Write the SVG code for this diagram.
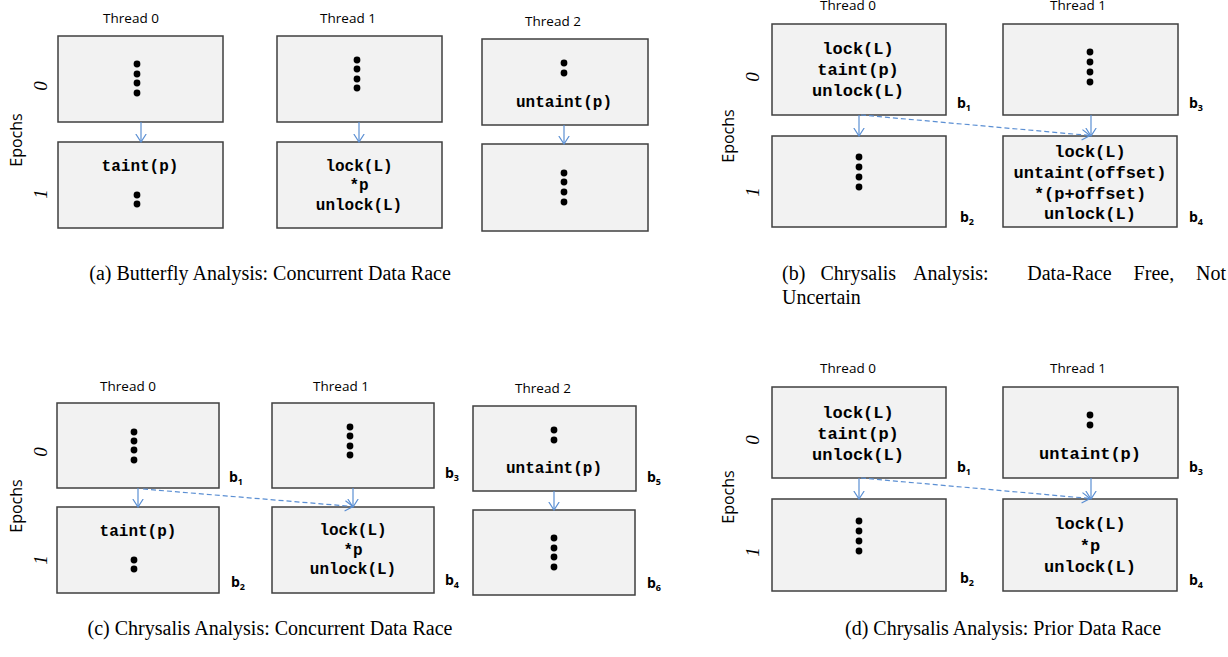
<svg xmlns="http://www.w3.org/2000/svg" width="1228" height="657" viewBox="0 0 1228 657">
  <style>
    .box { fill: #f2f2f2; stroke: #3f3f3f; stroke-width: 1.5; }
    .thr { font-family: "Open Sans", "Liberation Sans", sans-serif; font-size: 13.5px; fill: #000; text-anchor: middle; }
    .ep { font-family: "Open Sans", "Liberation Sans", sans-serif; font-size: 16px; fill: #000; text-anchor: middle; }
    .num { font-family: "Liberation Serif", serif; font-style: italic; font-size: 19px; fill: #000; text-anchor: middle; }
    .code { font-family: "Liberation Mono", monospace; font-weight: bold; font-size: 16px; fill: #000; text-anchor: middle; }
    .code17 { font-family: "Liberation Mono", monospace; font-weight: bold; font-size: 17px; fill: #000; text-anchor: middle; }
    .blk { font-family: "Open Sans", "Liberation Sans", sans-serif; font-weight: bold; font-size: 14px; fill: #000; }
    .sub { font-size: 9px; }
    .cap { font-family: "Liberation Serif", serif; font-size: 20px; fill: #000; }
    .dot { fill: #000; }
    .edge { stroke: #5b8fd3; stroke-width: 1.2; fill: none; marker-end: url(#vhead); }
    .dash { stroke-dasharray: 5 3; }
  </style>
  <defs>
    <marker id="vhead" markerUnits="userSpaceOnUse" viewBox="0 0 9 12" refX="8.5" refY="6" markerWidth="9" markerHeight="12" orient="auto">
      <path d="M0.5,0.8 L8.5,6 L0.5,11.2" fill="none" stroke="#5b8fd3" stroke-width="1.2"/>
    </marker>
  </defs>

  <!-- ===== (a) Butterfly Analysis ===== -->
  <g id="a-labels">
    <text class="thr" x="131" y="23">Thread 0</text>
    <text class="thr" x="348" y="23">Thread 1</text>
    <text class="thr" x="553" y="26">Thread 2</text>
    <text class="ep" transform="translate(16,140) rotate(-90)" y="5.5">Epochs</text>
    <text class="num" transform="translate(41,86) rotate(-90)" y="6">0</text>
    <text class="num" transform="translate(41,194) rotate(-90)" y="6">1</text>
  </g>
  <g id="a-t0-e0">
    <rect class="box" x="58" y="36" width="165" height="86"/>
    <circle class="dot" cx="137" cy="64" r="3.4"/><circle class="dot" cx="137" cy="74" r="3.4"/>
    <circle class="dot" cx="137" cy="83" r="3.4"/><circle class="dot" cx="137" cy="93" r="3.4"/>
  </g>
  <g id="a-t0-e1">
    <rect class="box" x="58" y="142" width="165" height="86"/>
    <text class="code" x="140" y="171">taint(p)</text>
    <circle class="dot" cx="137" cy="195" r="3.4"/><circle class="dot" cx="137" cy="204" r="3.4"/>
  </g>
  <g id="a-t1-e0">
    <rect class="box" x="277" y="36" width="165" height="86"/>
    <circle class="dot" cx="357" cy="60" r="3.4"/><circle class="dot" cx="357" cy="69" r="3.4"/>
    <circle class="dot" cx="357" cy="79" r="3.4"/><circle class="dot" cx="357" cy="88" r="3.4"/>
  </g>
  <g id="a-t1-e1">
    <rect class="box" x="277" y="142" width="165" height="86"/>
    <text class="code" x="359" y="171">lock(L)</text>
    <text class="code" x="359" y="190">*p</text>
    <text class="code" x="359" y="210">unlock(L)</text>
  </g>
  <g id="a-t2-e0">
    <rect class="box" x="482" y="39" width="166" height="86"/>
    <circle class="dot" cx="564" cy="63" r="3.4"/><circle class="dot" cx="564" cy="73" r="3.4"/>
    <text class="code" x="564" y="107">untaint(p)</text>
  </g>
  <g id="a-t2-e1">
    <rect class="box" x="482" y="144" width="166" height="87"/>
    <circle class="dot" cx="564" cy="173" r="3.4"/><circle class="dot" cx="564" cy="182" r="3.4"/>
    <circle class="dot" cx="564" cy="192" r="3.4"/><circle class="dot" cx="564" cy="202" r="3.4"/>
  </g>
  <g id="a-edges">
    <line class="edge" x1="141" y1="122" x2="141" y2="142"/>
    <line class="edge" x1="359" y1="122" x2="359" y2="142"/>
    <line class="edge" x1="564" y1="125" x2="564" y2="144"/>
  </g>
  <text class="cap" x="270" y="280" text-anchor="middle">(a) Butterfly Analysis: Concurrent Data Race</text>

  <!-- ===== (b) Chrysalis: data-race free ===== -->
  <g id="b-labels">
    <text class="thr" x="848" y="10">Thread 0</text>
    <text class="thr" x="1078" y="10">Thread 1</text>
    <text class="ep" transform="translate(728,136) rotate(-90)" y="5.5">Epochs</text>
    <text class="num" transform="translate(753,77) rotate(-90)" y="6">0</text>
    <text class="num" transform="translate(753,192) rotate(-90)" y="6">1</text>
  </g>
  <g id="b-t0-e0">
    <rect class="box" x="772" y="24" width="174" height="91"/>
    <text class="code17" x="858" y="54">lock(L)</text>
    <text class="code17" x="858" y="75">taint(p)</text>
    <text class="code17" x="858" y="96">unlock(L)</text>
    <text class="blk" x="957" y="108">b<tspan class="sub" dy="3">1</tspan></text>
  </g>
  <g id="b-t0-e1">
    <rect class="box" x="772" y="136" width="174" height="91"/>
    <circle class="dot" cx="859" cy="157" r="3.4"/><circle class="dot" cx="859" cy="167" r="3.4"/>
    <circle class="dot" cx="859" cy="177" r="3.4"/><circle class="dot" cx="859" cy="187" r="3.4"/>
    <text class="blk" x="960" y="222">b<tspan class="sub" dy="3">2</tspan></text>
  </g>
  <g id="b-t1-e0">
    <rect class="box" x="1003" y="24" width="175" height="91"/>
    <circle class="dot" cx="1090" cy="52" r="3.4"/><circle class="dot" cx="1090" cy="62" r="3.4"/>
    <circle class="dot" cx="1090" cy="72" r="3.4"/><circle class="dot" cx="1090" cy="82" r="3.4"/>
    <text class="blk" x="1189" y="108">b<tspan class="sub" dy="3">3</tspan></text>
  </g>
  <g id="b-t1-e1">
    <rect class="box" x="1003" y="136" width="174" height="91"/>
    <text class="code17" x="1090" y="157">lock(L)</text>
    <text class="code17" x="1090" y="178">untaint(offset)</text>
    <text class="code17" x="1090" y="199">*(p+offset)</text>
    <text class="code17" x="1090" y="219">unlock(L)</text>
    <text class="blk" x="1189" y="222">b<tspan class="sub" dy="3">4</tspan></text>
  </g>
  <g id="b-edges">
    <line class="edge" x1="859" y1="115" x2="859" y2="136"/>
    <line class="edge" x1="1091" y1="115" x2="1091" y2="136"/>
    <line class="edge dash" x1="861" y1="115" x2="1090" y2="135.5"/>
  </g>
  <text class="cap" y="280"><tspan x="782">(b)</tspan><tspan x="820.5">Chrysalis</tspan><tspan x="913">Analysis:</tspan><tspan x="1027.3">Data-Race</tspan><tspan x="1133.6">Free,</tspan><tspan x="1196">Not</tspan></text>
  <text class="cap" x="782" y="304">Uncertain</text>

  <!-- ===== (c) Chrysalis: concurrent race ===== -->
  <g id="c-labels">
    <text class="thr" x="128" y="391">Thread 0</text>
    <text class="thr" x="341" y="391">Thread 1</text>
    <text class="thr" x="543" y="393">Thread 2</text>
    <text class="ep" transform="translate(16,506) rotate(-90)" y="5.5">Epochs</text>
    <text class="num" transform="translate(41,452) rotate(-90)" y="6">0</text>
    <text class="num" transform="translate(41,560) rotate(-90)" y="6">1</text>
  </g>
  <g id="c-t0-e0">
    <rect class="box" x="57" y="403" width="162" height="85"/>
    <circle class="dot" cx="134" cy="432" r="3.4"/><circle class="dot" cx="134" cy="441" r="3.4"/>
    <circle class="dot" cx="134" cy="450" r="3.4"/><circle class="dot" cx="134" cy="460" r="3.4"/>
    <text class="blk" x="229" y="482">b<tspan class="sub" dy="3">1</tspan></text>
  </g>
  <g id="c-t0-e1">
    <rect class="box" x="57" y="507" width="162" height="86"/>
    <text class="code" x="138" y="536">taint(p)</text>
    <circle class="dot" cx="134" cy="560" r="3.4"/><circle class="dot" cx="134" cy="569" r="3.4"/>
    <text class="blk" x="231" y="587">b<tspan class="sub" dy="3">2</tspan></text>
  </g>
  <g id="c-t1-e0">
    <rect class="box" x="272" y="403" width="162" height="85"/>
    <circle class="dot" cx="350" cy="427" r="3.4"/><circle class="dot" cx="350" cy="436" r="3.4"/>
    <circle class="dot" cx="350" cy="446" r="3.4"/><circle class="dot" cx="350" cy="455" r="3.4"/>
    <text class="blk" x="445" y="478">b<tspan class="sub" dy="3">3</tspan></text>
  </g>
  <g id="c-t1-e1">
    <rect class="box" x="272" y="507" width="162" height="86"/>
    <text class="code" x="353" y="535">lock(L)</text>
    <text class="code" x="353" y="555">*p</text>
    <text class="code" x="353" y="574">unlock(L)</text>
    <text class="blk" x="445" y="585">b<tspan class="sub" dy="3">4</tspan></text>
  </g>
  <g id="c-t2-e0">
    <rect class="box" x="473" y="406" width="163" height="85"/>
    <circle class="dot" cx="554" cy="430" r="3.4"/><circle class="dot" cx="554" cy="440" r="3.4"/>
    <text class="code" x="554" y="473">untaint(p)</text>
    <text class="blk" x="647" y="482">b<tspan class="sub" dy="3">5</tspan></text>
  </g>
  <g id="c-t2-e1">
    <rect class="box" x="473" y="510" width="162" height="85"/>
    <circle class="dot" cx="554" cy="538" r="3.4"/><circle class="dot" cx="554" cy="548" r="3.4"/>
    <circle class="dot" cx="554" cy="557" r="3.4"/><circle class="dot" cx="554" cy="567" r="3.4"/>
    <text class="blk" x="647" y="588">b<tspan class="sub" dy="3">6</tspan></text>
  </g>
  <g id="c-edges">
    <line class="edge" x1="138" y1="488" x2="138" y2="507"/>
    <line class="edge" x1="353" y1="488" x2="353" y2="507"/>
    <line class="edge" x1="554" y1="491" x2="554" y2="510"/>
    <line class="edge dash" x1="143" y1="489" x2="353" y2="506.5"/>
  </g>
  <text class="cap" x="270" y="635" text-anchor="middle">(c) Chrysalis Analysis: Concurrent Data Race</text>

  <!-- ===== (d) Chrysalis: prior race ===== -->
  <g id="d-labels">
    <text class="thr" x="848" y="373">Thread 0</text>
    <text class="thr" x="1078" y="373">Thread 1</text>
    <text class="ep" transform="translate(728,497) rotate(-90)" y="5.5">Epochs</text>
    <text class="num" transform="translate(753,440) rotate(-90)" y="6">0</text>
    <text class="num" transform="translate(753,552) rotate(-90)" y="6">1</text>
  </g>
  <g id="d-t0-e0">
    <rect class="box" x="772" y="387" width="174" height="91"/>
    <text class="code17" x="858" y="418">lock(L)</text>
    <text class="code17" x="858" y="439">taint(p)</text>
    <text class="code17" x="858" y="460">unlock(L)</text>
    <text class="blk" x="957" y="472">b<tspan class="sub" dy="3">1</tspan></text>
  </g>
  <g id="d-t0-e1">
    <rect class="box" x="772" y="499" width="174" height="92"/>
    <circle class="dot" cx="859" cy="521" r="3.4"/><circle class="dot" cx="859" cy="531" r="3.4"/>
    <circle class="dot" cx="859" cy="541" r="3.4"/><circle class="dot" cx="859" cy="551" r="3.4"/>
    <text class="blk" x="960" y="583">b<tspan class="sub" dy="3">2</tspan></text>
  </g>
  <g id="d-t1-e0">
    <rect class="box" x="1003" y="387" width="175" height="91"/>
    <circle class="dot" cx="1090" cy="415" r="3.4"/><circle class="dot" cx="1090" cy="425" r="3.4"/>
    <text class="code17" x="1090" y="459">untaint(p)</text>
    <text class="blk" x="1189" y="472">b<tspan class="sub" dy="3">3</tspan></text>
  </g>
  <g id="d-t1-e1">
    <rect class="box" x="1003" y="499" width="174" height="92"/>
    <text class="code17" x="1090" y="529">lock(L)</text>
    <text class="code17" x="1090" y="551">*p</text>
    <text class="code17" x="1090" y="572">unlock(L)</text>
    <text class="blk" x="1189" y="585">b<tspan class="sub" dy="3">4</tspan></text>
  </g>
  <g id="d-edges">
    <line class="edge" x1="859" y1="478" x2="859" y2="499"/>
    <line class="edge" x1="1091" y1="478" x2="1091" y2="499"/>
    <line class="edge dash" x1="861" y1="478" x2="1090" y2="498.5"/>
  </g>
  <text class="cap" x="1003" y="635" text-anchor="middle">(d) Chrysalis Analysis: Prior Data Race</text>
</svg>
